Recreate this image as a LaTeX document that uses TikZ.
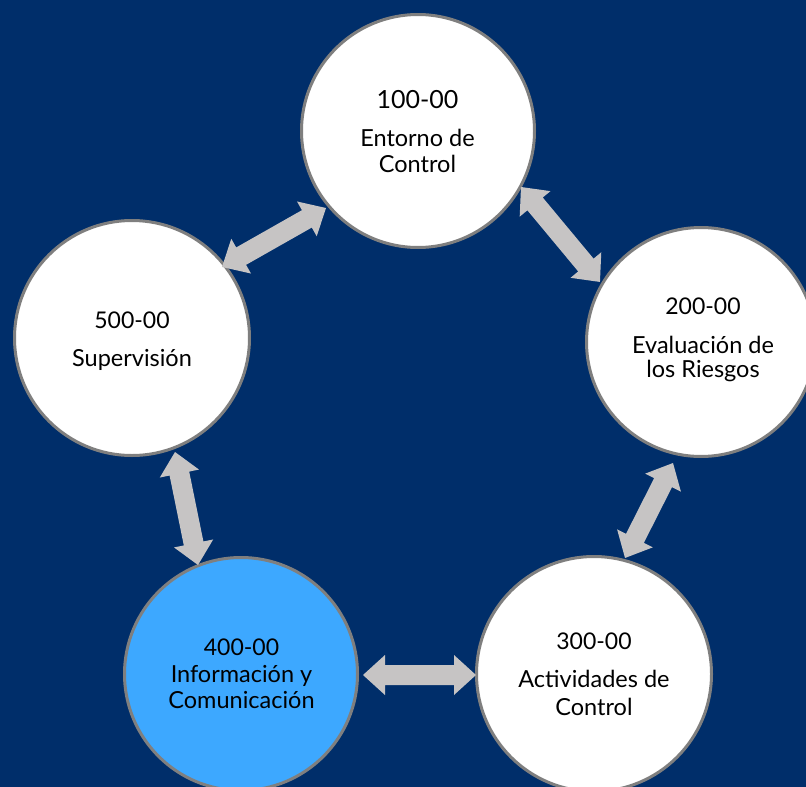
\documentclass[tikz,border=0pt]{standalone}
\usepackage{fontspec}
\setmainfont{Lato}
\usetikzlibrary{calc}
\definecolor{navy}{RGB}{0,46,106}
\definecolor{skyblue}{RGB}{61,168,255}
\definecolor{arrowgray}{RGB}{198,196,196}
\definecolor{rimgray}{RGB}{127,127,127}
\tikzset{
  bubble/.style={circle, draw=rimgray, line width=3pt, fill=white, inner sep=0pt},
  numtxt/.style={anchor=base, font=\fontsize{23}{27}\selectfont, text=black, inner sep=0pt},
  lbltxt/.style={anchor=base, font=\fontsize{23.5}{27}\selectfont, text=black, inner sep=0pt},
}
\newcommand\dblarrow[2]{%
  \fill[arrowgray] let \p1=($(#2)-(#1)$), \n1={atan2(\y1,\x1)}, \n2={veclen(\x1,\y1)} in
    [shift={(#1)}, rotate=\n1]
    (0,0) -- (22,20) -- (22,10) -- (\n2-22,10) -- (\n2-22,20) -- (\n2,0)
    -- (\n2-22,-20) -- (\n2-22,-10) -- (22,-10) -- (22,-20) -- cycle;}
\begin{document}
\begin{tikzpicture}[x=1pt,y=-1pt]
\fill[navy] (0,0) rectangle (806,787);
\useasboundingbox (0,0) rectangle (806,787);
% circles
\node[bubble, minimum size=233pt] (top) at (418,131) {};
\node[bubble, minimum size=229pt] (right) at (701,342) {};
\node[bubble, minimum size=235pt] (left) at (132,338) {};
\node[bubble, minimum size=233pt, fill=skyblue] (bl) at (241,674) {};
\node[bubble, minimum size=235pt] (br) at (594,674) {};
% texts
\node[numtxt, font=\fontsize{25}{29}\selectfont] (t1) at (417.5,108) {100-00};
\node[lbltxt] (t1a) at (417.5,146) {Entorno de};
\node[lbltxt] (t1b) at (417.5,172) {Control};
\node[numtxt] (t2) at (703,314) {200-00};
\node[lbltxt] (t2a) at (703,353) {Evaluación de};
\node[lbltxt] (t2b) at (703,377) {los Riesgos};
\node[numtxt] (t5) at (132,328) {500-00};
\node[lbltxt] (t5a) at (132,366) {Supervisión};
\node[numtxt] (t4) at (241.5,655) {400-00};
\node[lbltxt] (t4a) at (241.5,682) {Información y};
\node[lbltxt] (t4b) at (241.5,708) {Comunicación};
\node[numtxt] (t3) at (594,649) {300-00};
\node[lbltxt] (t3a) at (594,687) {Actividades de};
\node[lbltxt] (t3b) at (594,715) {Control};
% arrow tips
\coordinate (a1s) at (222,267); \coordinate (a1e) at (326,208);
\coordinate (a2s) at (521,187); \coordinate (a2e) at (600,282);
\coordinate (a3s) at (673,463); \coordinate (a3e) at (625,558);
\coordinate (a4s) at (363,675); \coordinate (a4e) at (476,675);
\coordinate (a5s) at (175,452); \coordinate (a5e) at (198,565);
\dblarrow{a1s}{a1e}
\dblarrow{a2s}{a2e}
\dblarrow{a3s}{a3e}
\dblarrow{a4s}{a4e}
\dblarrow{a5s}{a5e}
\end{tikzpicture}
\end{document}
